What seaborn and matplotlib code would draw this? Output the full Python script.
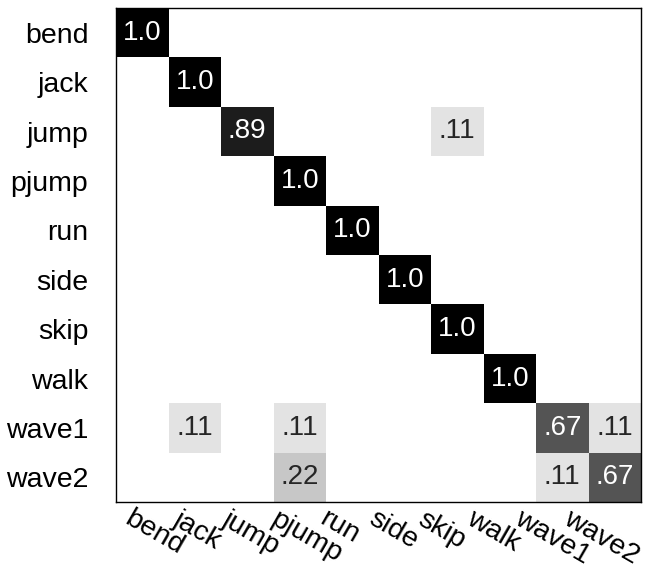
import numpy as np
import pandas as pd
import seaborn as sns
import matplotlib
matplotlib.use("Agg")
import matplotlib.pyplot as plt
import matplotlib.transforms as mtransforms

classes = ["bend", "jack", "jump", "pjump", "run", "side", "skip", "walk", "wave1", "wave2"]
row_bend  = [1.0, 0, 0, 0, 0, 0, 0, 0, 0, 0]
row_jack  = [0, 1.0, 0, 0, 0, 0, 0, 0, 0, 0]
row_jump  = [0, 0, 0.89, 0, 0, 0, 0.11, 0, 0, 0]
row_pjump = [0, 0, 0, 1.0, 0, 0, 0, 0, 0, 0]
row_run   = [0, 0, 0, 0, 1.0, 0, 0, 0, 0, 0]
row_side  = [0, 0, 0, 0, 0, 1.0, 0, 0, 0, 0]
row_skip  = [0, 0, 0, 0, 0, 0, 1.0, 0, 0, 0]
row_walk  = [0, 0, 0, 0, 0, 0, 0, 1.0, 0, 0]
row_wave1 = [0, 0.11, 0, 0.11, 0, 0, 0, 0, 0.67, 0.11]
row_wave2 = [0, 0, 0, 0.22, 0, 0, 0, 0, 0.11, 0.67]

mat = np.array([row_bend, row_jack, row_jump, row_pjump, row_run,
                row_side, row_skip, row_walk, row_wave1, row_wave2])
df = pd.DataFrame(mat, index=classes, columns=classes)

def fmt(v):
    if v == 0:
        return ""
    if v >= 0.995:
        return "1.0"
    return f"{v:.2f}".lstrip("0")

labels = np.vectorize(fmt)(mat)

plt.rcParams['font.family'] = ['Liberation Sans', 'DejaVu Sans']

fig = plt.figure(figsize=(6.64, 5.86), dpi=100)
ax = fig.add_axes([116/664, 1 - 502/586, (641-116)/664, (502-8)/586])

sns.heatmap(df, ax=ax, cmap="gray_r", vmin=0, vmax=1, cbar=False,
            annot=labels, fmt="", annot_kws={"fontsize": 20},
            square=False)

ax.tick_params(axis="y", length=0, pad=20)
ax.tick_params(axis="x", length=0, pad=3)
ax.set_yticklabels(classes, rotation=0, fontsize=20.5, ha="right")
ax.set_xticks(0.32 + np.arange(len(classes)) * 0.93)
ax.set_xticklabels(classes, rotation=-30, fontsize=20.5, ha="left", va="top",
                   rotation_mode="anchor")
shift = mtransforms.ScaledTranslation(0, -0.03, fig.dpi_scale_trans)
for lbl in ax.get_yticklabels():
    lbl.set_transform(lbl.get_transform() + shift)
ax.set_xlabel("")
ax.set_ylabel("")
for s in ax.spines.values():
    s.set_visible(True)
    s.set_color("black")
    s.set_linewidth(1.0)

fig.savefig("out.png", dpi=100)
